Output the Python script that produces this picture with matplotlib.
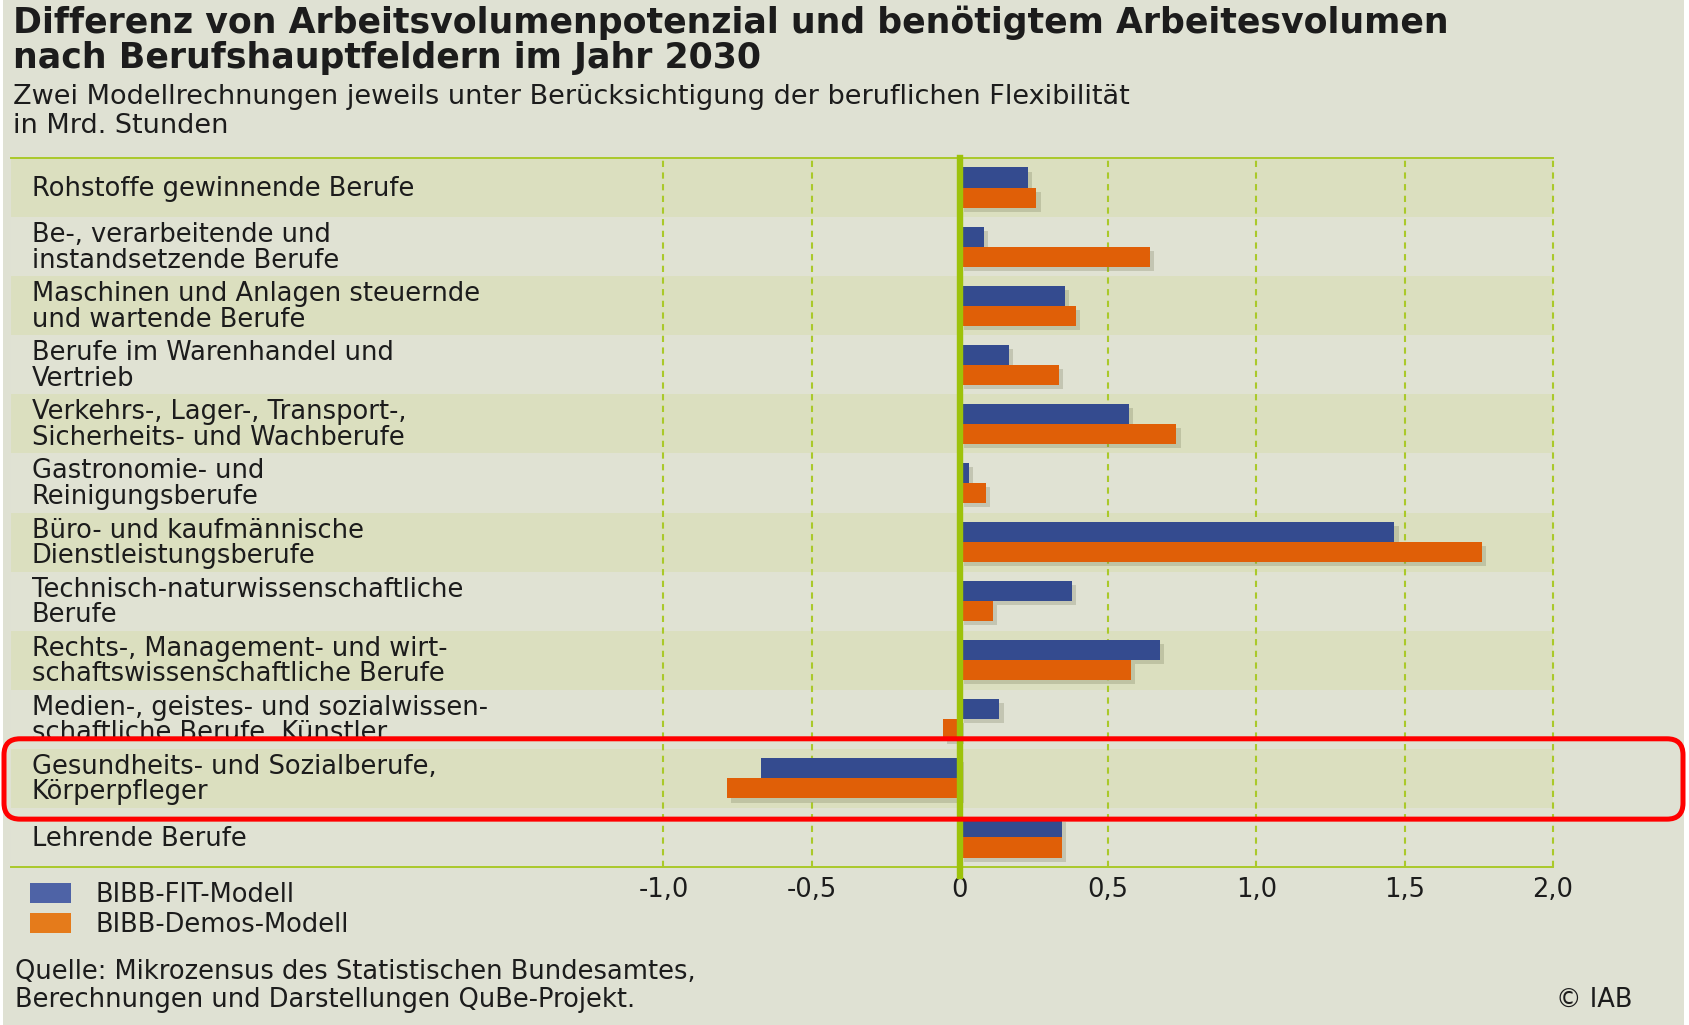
import matplotlib
matplotlib.use("Agg")
import matplotlib.pyplot as plt
import matplotlib.patheffects as pe
from matplotlib.patches import FancyBboxPatch, Patch
from matplotlib.transforms import IdentityTransform, blended_transform_factory, Bbox
import numpy as np

# ---------------- data ----------------
categories = [
    "Rohstoffe gewinnende Berufe",
    "Be-, verarbeitende und\ninstandsetzende Berufe",
    "Maschinen und Anlagen steuernde\nund wartende Berufe",
    "Berufe im Warenhandel und\nVertrieb",
    "Verkehrs-, Lager-, Transport-,\nSicherheits- und Wachberufe",
    "Gastronomie- und\nReinigungsberufe",
    "Büro- und kaufmännische\nDienstleistungsberufe",
    "Technisch-naturwissenschaftliche\nBerufe",
    "Rechts-, Management- und wirt-\nschaftswissenschaftliche Berufe",
    "Medien-, geistes- und sozialwissen-\nschaftliche Berufe, Künstler",
    "Gesundheits- und Sozialberufe,\nKörperpfleger",
    "Lehrende Berufe",
]
series_names = ["BIBB-FIT-Modell", "BIBB-Demos-Modell"]
fit_values = [0.23, 0.08, 0.355, 0.165, 0.57, 0.03, 1.465, 0.378, 0.675, 0.133, -0.67, 0.344]
demos_values = [0.258, 0.64, 0.39, 0.334, 0.73, 0.087, 1.76, 0.11, 0.576, -0.058, -0.785, 0.344]
tick_values = [-1.0, -0.5, 0, 0.5, 1.0, 1.5, 2.0]
tick_labels = ["-1,0", "-0,5", "0", "0,5", "1,0", "1,5", "2,0"]
highlight_index = 10

title_lines = ["Differenz von Arbeitsvolumenpotenzial und benötigtem Arbeitesvolumen",
               "nach Berufshauptfeldern im Jahr 2030"]
subtitle_lines = ["Zwei Modellrechnungen jeweils unter Berücksichtigung der beruflichen Flexibilität",
                  "in Mrd. Stunden"]
source_lines = ["Quelle: Mikrozensus des Statistischen Bundesamtes,",
                "Berechnungen und Darstellungen QuBe-Projekt."]
copyright_text = "© IAB"

# ---------------- style ----------------
W, H = 1690, 1025
BG = "#dfe1d3"
BAND_DARK = "#dbdfbf"
BAND_LIGHT = "#e0e2d3"
BLUE = "#344b8f"
ORANGE = "#e05f07"
BLUE_LEG = "#4e63a6"
ORANGE_LEG = "#e57b1b"
GREEN = "#9dc20a"
GRID = "#aac92a"
TXT = "#1c1c1c"
FONT = "DejaVu Sans"
FS = 18.5

plt.rcParams["font.family"] = [FONT]

def fx(px):
    return px / W

def fy(py):
    return 1 - py / H

fig = plt.figure(figsize=(W / 100, H / 100), dpi=100, facecolor="white")
fig.patches.append(plt.Rectangle((fx(3), 0), fx(1684) - fx(3), 1, transform=fig.transFigure,
                                 facecolor=BG, edgecolor="none", zorder=-10))

ax_left, ax_right, ax_top, ax_bottom = 11, 1553, 158, 867
ax = fig.add_axes([fx(ax_left), fy(ax_bottom), fx(ax_right - ax_left), (ax_bottom - ax_top) / H])
ax.set_facecolor(BG)

n = len(categories)
y = np.arange(n)
ax.set_xlim(-(960 - ax_left) / 296.5, 2.0)
ax.set_ylim(n - 0.5, -0.5)

# bands
for i in range(n):
    ax.axhspan(i - 0.5, i + 0.5, color=BAND_DARK if i % 2 == 0 else BAND_LIGHT, lw=0, zorder=0)

# dashed gridlines
for t in tick_values:
    if t != 0:
        ax.axvline(t, color=GRID, lw=1.5, linestyle=(0, (3.0, 2.6)), zorder=1, clip_on=False)

# bars
h = 0.34
shadow = [pe.SimplePatchShadow(offset=(3, -3), shadow_rgbFace="#5c6040", alpha=0.22), pe.Normal()]
b1 = ax.barh(y - h / 2, fit_values, height=h, color=BLUE, zorder=3, label=series_names[0])
b2 = ax.barh(y + h / 2, demos_values, height=h, color=ORANGE, zorder=3, label=series_names[1])
for b in list(b1) + list(b2):
    b.set_path_effects(shadow)

# zero line
ax.axvline(0, color=GREEN, lw=4.6, ymin=-0.012, ymax=1.0, zorder=6, clip_on=False)

# spines & ticks
for s in ["left", "right"]:
    ax.spines[s].set_visible(False)
for s in ["top", "bottom"]:
    ax.spines[s].set_color(GRID)
    ax.spines[s].set_linewidth(1.4)
ax.set_yticks([])
ax.set_xticks(tick_values)
ax.set_xticklabels(tick_labels)
ax.tick_params(axis="x", direction="in", length=4, width=1.4, color=GRID, pad=7.5,
               labelsize=FS, labelcolor=TXT)

# category labels
trans = blended_transform_factory(ax.transAxes, ax.transData)
label_x = (32 - ax_left) / (ax_right - ax_left)
label_texts = []
for i, c in enumerate(categories):
    t = ax.text(label_x, i + 0.02, c, transform=trans, ha="left", va="center", fontsize=FS,
                color=TXT, linespacing=0.97, zorder=4)
    label_texts.append(t)

# titles
fig.text(fx(13), fy(23), title_lines[0], fontsize=25, fontweight="bold", color=TXT, va="center", ha="left")
fig.text(fx(13), fy(58), title_lines[1], fontsize=25, fontweight="bold", color=TXT, va="center", ha="left")
fig.text(fx(13), fy(97), subtitle_lines[0], fontsize=19.5, color=TXT, va="center", ha="left")
fig.text(fx(13), fy(126), subtitle_lines[1], fontsize=19.5, color=TXT, va="center", ha="left")

# legend
handles = [Patch(facecolor=BLUE_LEG, edgecolor="none"), Patch(facecolor=ORANGE_LEG, edgecolor="none")]
fig.legend(handles, series_names, loc="upper left", bbox_to_anchor=(fx(30), fy(882)),
           frameon=False, fontsize=FS, handlelength=1.6, handleheight=0.85, handletextpad=0.93,
           labelspacing=0.15, borderpad=0, borderaxespad=0, labelcolor=TXT)

# source
fig.text(fx(15), fy(972), source_lines[0], fontsize=FS, color=TXT, va="center", ha="left")
fig.text(fx(15), fy(1000), source_lines[1], fontsize=FS, color=TXT, va="center", ha="left")
fig.text(fx(1633), fy(1000), copyright_text, fontsize=FS, color=TXT, va="center", ha="right")

# highlight box around one category (computed from the axes scale)
fig.canvas.draw()
row_top = ax.transData.transform((0, highlight_index - 0.5 - 0.17))[1]
row_bot = ax.transData.transform((0, highlight_index + 0.5 + 0.19))[1]
x0, x1 = 4, 1683
box = FancyBboxPatch((x0, row_bot), x1 - x0, row_top - row_bot,
                     boxstyle="round,pad=0,rounding_size=16", transform=IdentityTransform(),
                     facecolor="none", edgecolor="#ff0000", lw=3.6, zorder=20)
fig.patches.append(box)
# text of the row above is cut by the box
prev = label_texts[highlight_index - 1]
prev.set_clip_box(Bbox([[0, row_top + 2], [W, H]]))
prev.set_clip_on(True)

fig.savefig("out.png", dpi=100, facecolor="white")
